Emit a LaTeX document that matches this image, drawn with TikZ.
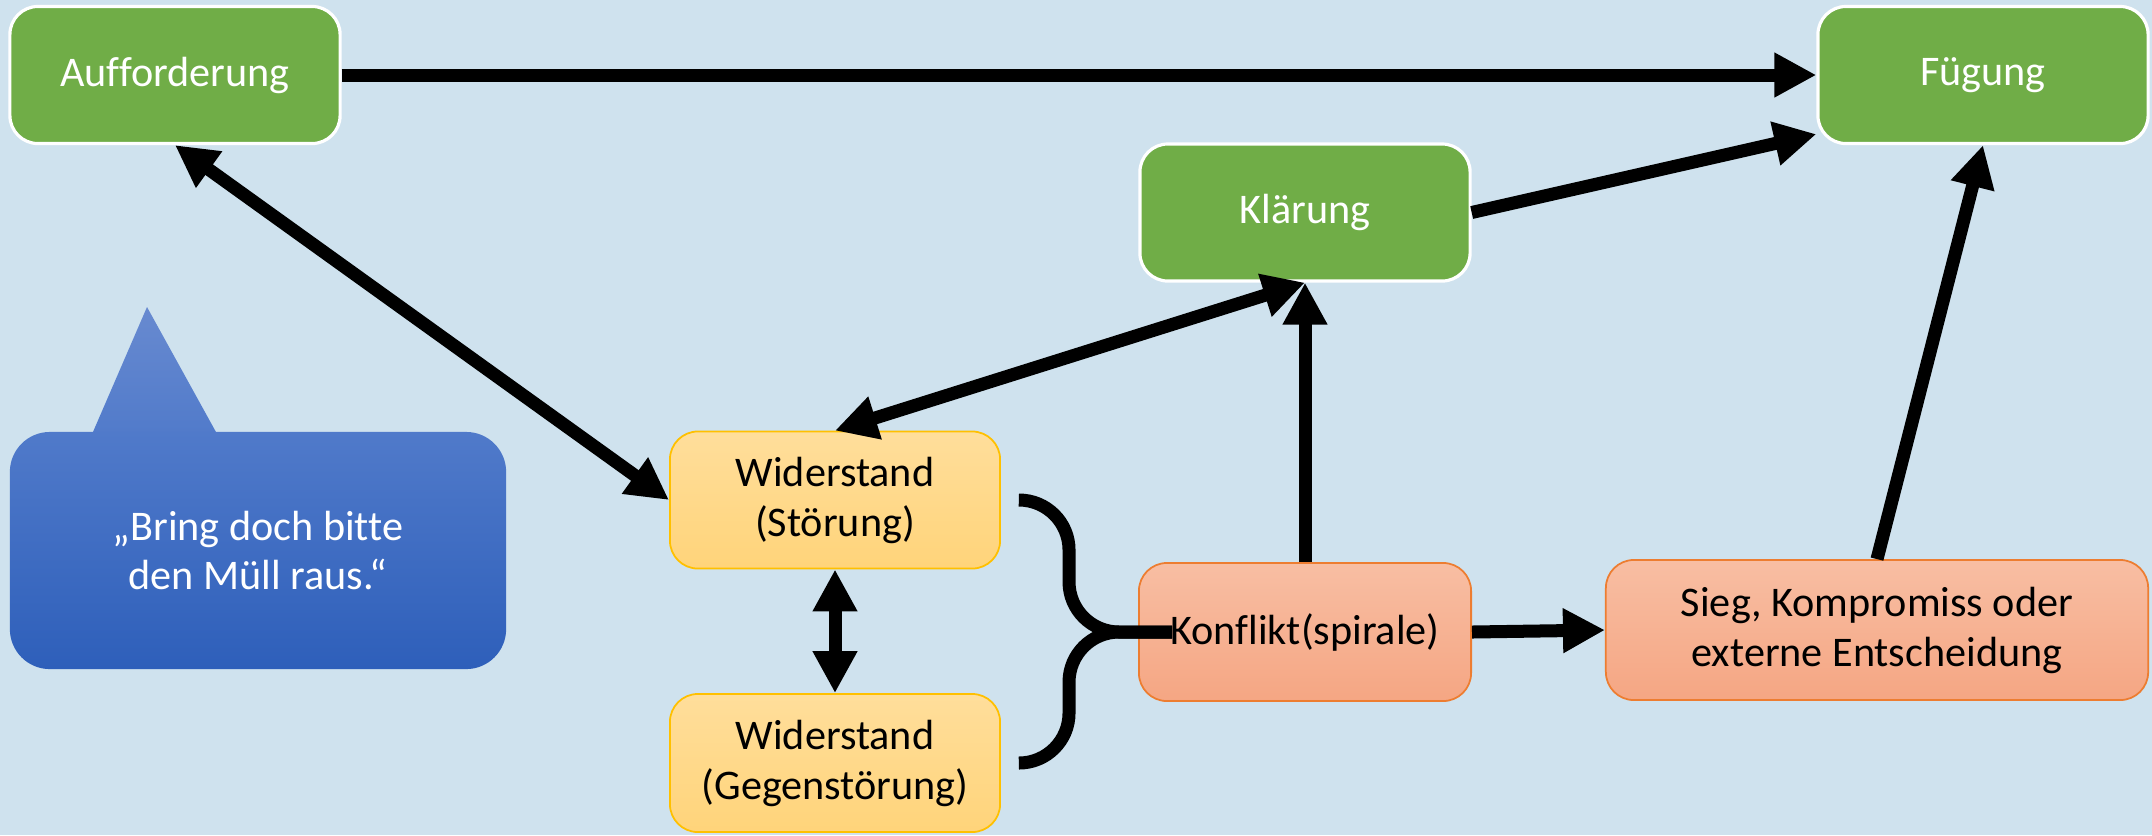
\documentclass[tikz,border=0pt]{standalone}
\usepackage{fontspec}
\setmainfont{Carlito}[Ligatures=NoCommon]
\usetikzlibrary{arrows.meta,calc}
\definecolor{bg}{RGB}{207,226,238}
\definecolor{grn}{RGB}{112,173,71}
\definecolor{yelT}{RGB}{255,222,155}
\definecolor{yelB}{RGB}{255,212,122}
\definecolor{yelD}{RGB}{255,192,0}
\definecolor{redT}{RGB}{248,190,163}
\definecolor{redB}{RGB}{245,166,131}
\definecolor{redD}{RGB}{237,125,49}
\definecolor{bubT}{RGB}{104,138,208}
\definecolor{bubM}{RGB}{80,122,202}
\definecolor{bubB}{RGB}{46,95,186}
\begin{document}
\begin{tikzpicture}[x=0.01cm,y=-0.01cm,
  box/.style={rounded corners=0.28cm, minimum width=3.3cm, minimum height=1.37cm,
    inner sep=0pt, align=center, font=\fontsize{12}{14.2}\selectfont},
  greenbox/.style={box, fill=grn, draw=white, line width=0.9pt, text=white},
  yelbox/.style={box, top color=yelT, bottom color=yelB, draw=yelD, line width=0.5pt},
  redbox/.style={box, top color=redT, bottom color=redB, draw=redD, line width=0.5pt},
  bubblebox/.style={rounded corners=0.4cm, minimum width=4.96cm, minimum height=2.37cm,
    inner sep=0pt, align=center, top color=bubM, bottom color=bubB, text=white,
    font=\fontsize{12}{14.2}\selectfont},
  tipA/.tip={Triangle[length=0.42cm,width=0.42cm]},
  conn/.style={line width=0.13cm, -tipA},
  dconn/.style={line width=0.13cm, tipA-tipA},
  brace/.style={line width=0.13cm, rounded corners=0.5cm},
]
\fill[bg] (0,0) rectangle (2152,835);
\useasboundingbox (0,0) rectangle (2152,835);

% speech bubble
\shade[top color=bubT, bottom color=bubM] (89.5,440) -- (147,307) -- (220.4,440) -- cycle;
\node[bubblebox] (bub) at (258,550.5) {„Bring doch bitte\\den Müll raus.“};

% nodes
\node[greenbox] (auf) at (175,75) {Aufforderung};
\node[greenbox] (fug) at (1983,75) {Fügung};
\node[greenbox] (kla) at (1305,212.5) {Klärung};
\node[yelbox] (st) at (835,500) {Widerstand\\(Störung)};
\node[yelbox, minimum height=1.38cm] (gs) at (835,763) {Widerstand\\(Gegenstörung)};
\node[redbox, minimum width=3.32cm, minimum height=1.38cm] (kon) at (1305,632) {Konflikt(spirale)};
\node[redbox, minimum width=5.42cm, minimum height=1.4cm] (sieg) at (1877,630) {Sieg, Kompromiss oder\\externe Entscheidung};

% connectors
\draw[conn] (auf.east) -- (fug.west);
\draw[conn] (kla.east) -- ($(fug.south west)+(0,-11)$);
\draw[dconn] (auf.south) -- (st.west);
\draw[dconn] (st.north) -- (kla.south);
\draw[conn] (kon.north) -- (kla.south);
\draw[dconn] (st.south) -- (gs.north);
\draw[conn] (kon.east) -- (sieg.west);
\draw[conn] (sieg.north) -- (fug.south);

% brace joining the two resistances into the conflict
\draw[brace] ($(st.east)+(19,0)$) -| ($(kon.west)+(-69,0)$) -- ($(kon.west)+(34,0)$);
\draw[brace] ($(gs.east)+(19,0)$) -| ($(kon.west)+(-69,0)$) -- ($(kon.west)+(34,0)$);
\end{tikzpicture}
\end{document}
